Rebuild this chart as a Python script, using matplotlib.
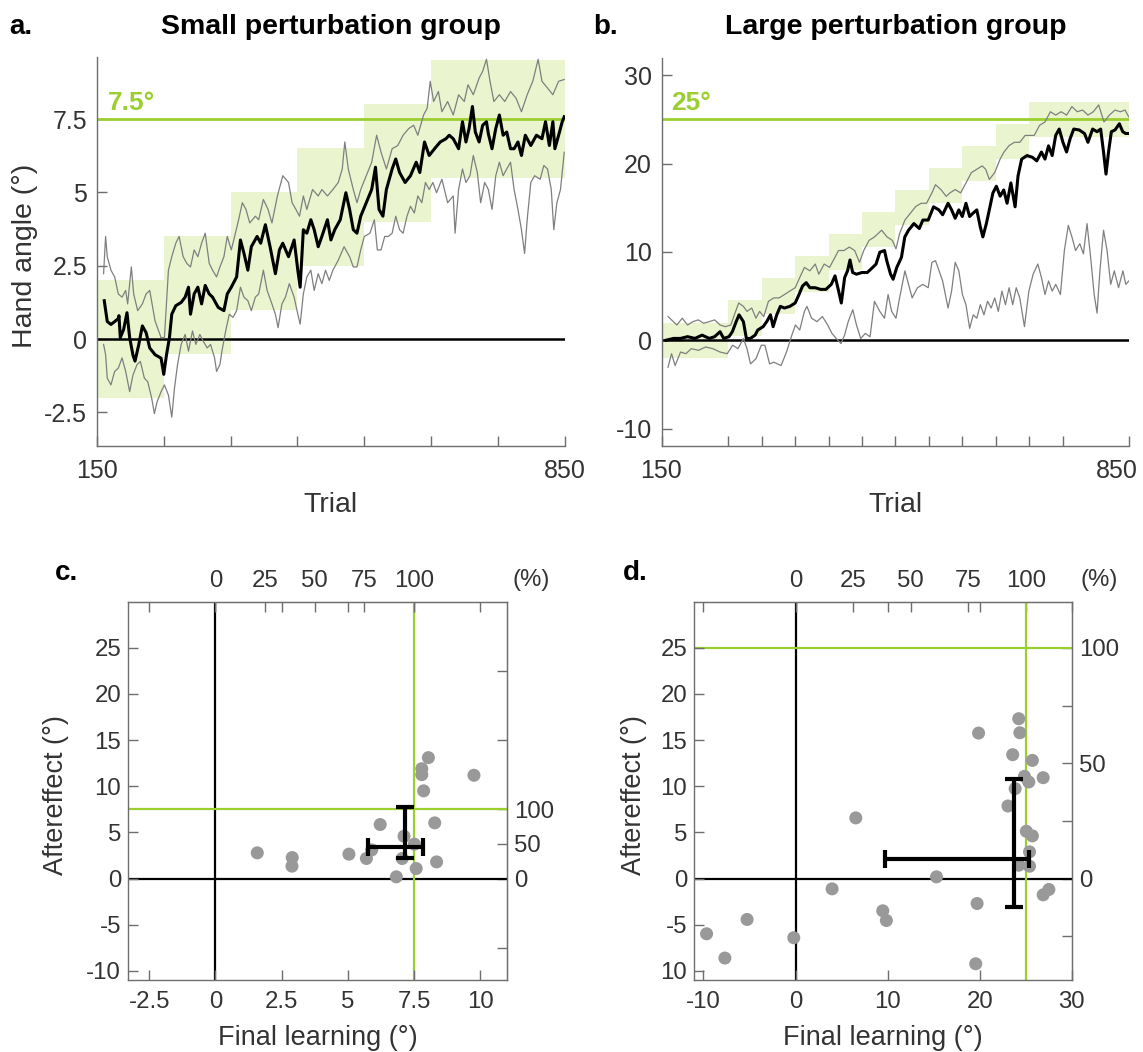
import matplotlib
matplotlib.use("Agg")
import matplotlib.pyplot as plt
import matplotlib.transforms as mtransforms
import numpy as np

plt.rcParams['font.family'] = ['Liberation Sans', 'DejaVu Sans']
plt.rcParams['axes.unicode_minus'] = False

# ---------------- data ----------------
# Panel a (small perturbation group)
a_block_edges = [150, 250, 350, 450, 550, 650, 850]
a_block_centers = [0, 1.5, 3, 4.5, 6, 7.5]
a_xticks = [150, 250, 350, 450, 550, 650, 750, 850]
a_target = 7.5

a_mean = [(161,1.31),(165.5,0.6),(171,0.5),(176.6,0.6),(182,0.7),(183,0.8),(185,0.05),(190,0.33),(195,0.9),(199,0.05),
          (204,-0.55),(207,-0.75),(212.5,-0.2),(218,0.45),(223.6,0.22),(229,-0.3),(237,-0.53),(246,-0.65),(250,-1.2),
          (254,-0.55),(258.5,0.05),(262,0.85),(268,1.14),(276,1.25),(282,1.43),(287,1.77),(290,0.85),(295.5,1.54),
          (301,1.77),(306.6,1.2),(312,1.83),(318,1.54),(323,1.43),(331.5,1.08),(340,0.97),(345,1.54),(351,1.77),
          (359,2.12),(364.7,3.38),(370,2.92),(375.8,2.35),(381,3.15),(389.6,3.5),(395,3.27),(402,3.9),(409,3.15),
          (417,2.23),(423,3.04),(428,3.27),(436.6,2.81),(445,3.38),(450.5,2.35),(454,1.77),(458.8,3.73),(464,3.61),
          (470,4.07),(475,3.73),(481,3.15),(486.5,3.5),(494.8,4.07),(500,3.38),(505.8,3.73),(514,4.07),(522.4,4.99),
          (528,4.42),(533.5,3.73),(539,3.61),(544.6,4.19),(552.9,4.65),(561,5.1),(566.7,5.86),(572,4.42),(577.8,4.19),
          (583,5.1),(591.6,5.8),(597,6.14),(602.7,5.68),(611,5.34),(619,5.57),(627.6,6.03),(633,5.68),(640,6.72),
          (647,6.26),(655,6.49),(663.5,6.72),(672,6.83),(677,6.95),(683,6.83),(691,6.49),(696.8,7.41),(702,6.72),
          (706.7,7.18),(711.7,7.93),(716,7.06),(721.7,6.72),(727,7.29),(732.7,7.41),(735.5,7.0),(741,6.49),(746.6,7.18),
          (752,7.64),(757.6,6.95),(763,7.06),(768.7,6.49),(774,6.49),(779.8,6.72),(785,6.26),(790.8,6.95),(799,6.6),
          (807.4,6.95),(815.7,6.83),(821,7.41),(826.8,6.6),(832,7.41),(835,6.49),(840.6,6.95),(846,7.41),(849,7.58)]

a_upper = [(160,2.23),(163,3.5),(165.5,2.81),(171,2.35),(176.6,2.12),(182,1.54),(187.6,1.43),(193,1.66),(196,1.2),
           (201.5,2.46),(205,1.54),(211,0.97),(218,1.2),(223.6,1.54),(229,1.66),(237,0.62),(246,0.05),(251,0.05),
           (257,2.35),(262,2.81),(268,3.27),(273,3.5),(279,2.81),(284.5,2.58),(290,2.46),(295.5,3.04),(301,2.81),
           (306.6,3.27),(312,3.61),(318,2.58),(323,2.35),(329,2.12),(334,2.46),(340,2.81),(345,3.5),(351,3.04),
           (356,3.5),(362,4.07),(367.5,4.65),(373,4.42),(378.6,3.96),(387,4.19),(392,4.07),(399,4.76),(406,4.42),
           (411.8,3.96),(420,4.88),(428,5.57),(436.6,5.34),(442,4.65),(447.7,4.42),(453,4.19),(458.8,4.88),(464,4.42),
           (472.6,5.1),(481,4.88),(486.5,5.1),(494.8,4.88),(503,5.1),(511,5.34),(517,5.8),(520.8,6.72),(526,5.8),
           (533.5,5.1),(539,4.65),(544.6,5.1),(552.9,5.57),(561,6.03),(568.4,6.95),(575,6.37),(583,5.8),(591.6,6.49),
           (600,6.6),(608,6.95),(616.5,7.18),(623.7,7.29),(630,6.95),(638.6,7.64),(644,7.87),(648.6,8.79),(653.6,8.1),
           (660.8,8.44),(666,7.75),(674.6,8.1),(683,7.64),(691,8.33),(699.5,8.1),(705,8.67),(713,8.33),(721.7,8.9),
           (727,9.13),(732.7,9.54),(738,8.79),(743.8,8.1),(752,8.33),(760,8.1),(768.7,8.44),(777,8.21),(785,7.75),
           (793.6,8.33),(802,8.79),(810,9.54),(815.7,8.79),(824,8.56),(832,8.33),(840.6,8.79),(849,8.85)]

a_lower = [(160,-0.18),(163,-0.53),(165.5,-1.33),(171,-1.56),(176.6,-1.1),(182,-0.99),(187.6,-0.64),(193,-1.1),
           (199,-1.79),(204,-1.22),(210,-0.87),(215,-0.76),(221,-1.33),(226,-1.45),(232,-2.02),(236,-2.54),(240,-2.14),
           (246,-1.79),(251,-1.56),(257,-1.91),(262,-2.66),(266,-1.68),(270.6,-0.87),(276,-0.18),(282,0.16),(287,-0.41),
           (293,0.28),(298,-0.18),(304,0.16),(309,-0.07),(315,-0.3),(320,-0.18),(326,-0.64),(329,-1.1),(334,-0.87),
           (337,-0.41),(342.6,0.28),(348,0.85),(353.6,0.74),(359,0.97),(364.7,1.77),(370,1.43),(375.8,1.31),(381,0.97),
           (387,1.43),(392,1.54),(399,2.35),(404.6,1.66),(411.8,1.2),(417,0.85),(421,0.39),(426.7,1.2),(432,1.43),
           (437.8,1.89),(445,1.43),(450.5,0.85),(454,0.51),(458.8,1.54),(464,2.12),(470,2.35),(475,1.66),(481,2.23),
           (486.5,1.89),(492,2.35),(497.5,2.0),(503,2.35),(511,2.69),(519.7,3.15),(528,2.81),(533.5,2.46),(539,2.46),
           (544.6,3.04),(550,3.5),(558.4,3.61),(565,4.07),(569.5,3.04),(575,3.04),(580.5,3.5),(586,3.5),(591.6,3.61),
           (597,4.19),(602.7,3.73),(608,3.61),(613.8,4.19),(619,4.53),(624.8,4.3),(630,4.88),(636,4.65),(641.4,5.34),
           (647,5.1),(652.5,5.34),(658,4.99),(666,5.45),(674.6,4.65),(683,4.88),(685.7,3.61),(691,5.1),(696.8,5.8),
           (702,5.34),(708,5.57),(713,6.26),(719,5.68),(724,4.65),(730,5.34),(735.5,5.1),(741,4.42),(746.6,5.57),
           (752,6.03),(757.6,5.57),(763,5.8),(768.7,6.03),(774,5.1),(779.8,4.42),(785,3.73),(789.7,2.92),(793.6,4.07),
           (799,5.34),(804.7,5.57),(813,5.45),(818.5,5.92),(824,5.8),(829.6,5.1),(833.4,3.73),(838,4.65),(843.4,5.1),
           (849,6.37)]

# Panel b (large perturbation group)
b_block_edges = [150, 250, 300, 350, 400, 450, 500, 550, 600, 650, 700, 850]
b_block_centers = [0, 2.5, 5, 7.5, 10, 12.5, 15, 17.5, 20, 22.5, 25]
b_xticks = [150, 250, 300, 350, 400, 450, 500, 550, 600, 650, 700, 750, 850]
b_target = 25

b_mean = [(157,0.0),(168,0.2),(178.5,0.2),(189,0.4),(200,0.2),(210.7,0.57),(221.5,0.2),(229.5,0.4),(237.6,0.96),
          (243,0.2),(251,0.4),(256,0.96),(261.7,2.1),(266,2.87),(272.5,2.1),(277,0.2),(283,0.2),(290,0.57),(294,1.15),
          (302,1.53),(307.4,2.1),(313,2.87),(317,1.53),(322.4,2.87),(327.8,3.83),(334,3.64),(342,3.83),(350,4.21),
          (355.7,5.17),(361,6.13),(366.5,6.51),(372,5.94),(380,5.94),(388,5.75),(396,5.75),(404,6.32),(409.6,7.28),
          (415,5.56),(419,4.21),(424,7.09),(428.3,7.85),(432,9.08),(436,7.66),(441.7,7.47),(449.8,7.66),(457.8,7.66),
          (466,8.24),(471,8.62),(476.6,9.96),(483.6,10.15),(487,9.0),(492.7,7.47),(496.5,6.9),(502,8.24),(509,9.39),
          (514,11.69),(519.6,12.45),(527.6,13.2),(535.7,12.64),(541,13.6),(549,13.6),(557,15.1),(565,14.75),(570.6,14.2),
          (578.7,15.5),(584,14.75),(589.4,13.8),(594.8,14.75),(600,14.0),(605.5,15.5),(611,14.0),(616,14.37),
          (621.7,14.75),(627,12.8),(630.8,11.69),(636,13.2),(640.4,14.75),(645.8,16.67),(651,17.43),(656.6,16.3),
          (662,17.0),(667,15.5),(672.7,17.8),(679,15.1),(683.4,18.6),(688.8,20.5),(696.9,20.9),(705,20.7),(711.4,20.3),
          (718.4,21.3),(723.7,20.5),(729,22.0),(734.5,20.9),(739.8,23.2),(745,23.9),(750.6,22.4),(756,21.3),
          (761.3,22.8),(766.7,23.9),(774.8,23.8),(782.8,23.4),(788,22.4),(795,23.9),(801.6,23.6),(807,23.9),
          (811.3,21.3),(815,18.8),(818.8,21.3),(823,23.6),(828.5,23.8),(835,24.5),(840,23.6),(844.4,23.4),(848.8,23.4)]

b_upper = [(159.7,2.68),(165,2.3),(173,1.72),(181,2.49),(189,1.72),(197,2.1),(205,2.3),(213,1.92),(221.4,2.1),
           (229.5,2.3),(237.6,1.72),(245.6,1.53),(253.7,1.72),(259,2.87),(265.5,4.21),(272.5,3.83),(277.9,3.26),
           (285,3.64),(291.3,2.49),(296.7,3.26),(303,2.68),(310,4.4),(318,4.79),(326,4.79),(334,5.17),(342,5.56),
           (350,5.94),(356.8,7.09),(363.8,8.24),(371.9,7.85),(380,8.62),(385.3,7.47),(393.4,8.62),(401.4,8.24),
           (406.8,9.0),(414.8,10.15),(422.9,10.15),(431,10.54),(439,10.15),(446.2,8.81),(452.6,10.15),(460.5,11.3),
           (468.6,11.69),(479.3,12.45),(487.4,11.69),(495.4,11.3),(500.8,10.34),(506.2,12.07),(514.2,13.6),(522.3,14.37),
           (530.3,15.13),(538.4,15.5),(546.5,15.5),(554.5,16.67),(559.9,17.6),(568,17.05),(576,16.28),(581.4,16.67),
           (589.4,17.05),(597.5,16.67),(605.5,17.8),(613.6,18.97),(621.7,19.35),(629.7,19.73),(635,19.35),(640.4,18.2),
           (648.5,18.97),(656.6,20.5),(662,21.26),(670,22.03),(678,22.4),(686,22.4),(694,23.18),(702,23.18),
           (707.6,23.18),(715.7,24.33),(723.7,24.7),(731.8,25.86),(739.8,25.48),(747.9,25.86),(756,25.48),(764,26.44),
           (772,25.86),(780,26.05),(788,25.48),(796,25.86),(804,26.63),(812,24.7),(820,25.48),(828.5,26.05),
           (836.5,25.86),(843.5,26.05),(848.8,25.3)]

b_lower = [(159.7,-3.07),(165,-1.53),(170.4,-2.87),(178.5,-1.34),(186.5,-1.53),(194.6,-0.96),(205.3,-1.15),(216,-0.77),
           (226.8,-0.96),(237.6,-1.34),(248.3,-1.53),(256.4,-0.57),(264.4,-0.96),(272.5,0.19),(277.9,-0.96),(283.2,-2.68),
           (291.3,-2.1),(299.3,-0.57),(304.7,-0.57),(311.7,-2.68),(318,-2.49),(328.9,-2.87),(337,-1.34),(345,0.57),
           (350.4,1.72),(356.8,1.15),(363.8,3.26),(367.6,3.83),(374.5,2.49),(382.6,2.1),(390.7,2.68),(398.7,1.72),
           (405,0.77),(411.5,0.19),(418.5,-0.38),(423.9,0.57),(429.3,2.1),(436.2,3.45),(441.7,1.72),(448,0.19),
           (455,0.77),(462,0.38),(468.6,4.4),(476.6,3.26),(483.6,2.49),(489,5.17),(494.3,3.26),(500.8,2.49),(506.2,4.79),
           (514.2,7.85),(519.6,6.32),(525,4.79),(533,5.94),(541,6.32),(549,5.94),(554.5,8.81),(559.9,9.0),(565.3,7.85),
           (570.6,6.7),(578.7,3.64),(584,5.56),(589.4,8.81),(594.8,7.85),(600.2,5.17),(605.5,4.02),(611,1.34),
           (616.3,2.87),(621.7,2.49),(627,4.02),(632.4,2.87),(637.8,4.4),(643.2,3.64),(648.5,4.79),(653.9,3.26),
           (659.3,5.56),(664.6,4.02),(670,5.94),(675.4,4.02),(680.7,5.94),(686,4.79),(693,1.53),(699.6,5.56),(706,7.47),
           (713,8.62),(718.4,7.09),(723.7,5.17),(729,6.7),(734.5,5.56),(739.8,6.32),(746.8,5.17),(752.7,10.15),
           (758.6,13.0),(764,11.69),(769.4,10.15),(775.8,10.92),(781.2,9.77),(786.6,13.2),(792,9.39),(797.3,5.17),
           (801.6,3.07),(805.9,7.85),(811.3,12.45),(816.6,10.15),(822,6.32),(827.4,7.85),(833.8,5.94),(840.3,7.85),
           (844.6,6.32),(849,6.7)]

# Panel c (small group): final learning vs aftereffect
c_target = 7.5
c_final = [1.58, 2.9, 2.89, 5.04, 5.7, 5.9, 6.22, 6.83, 7.05, 7.12, 7.51, 7.58, 7.79, 7.79, 7.86, 8.04, 8.28, 8.35, 9.76]
c_after = [2.78, 2.27, 1.34, 2.64, 2.17, 3.1, 5.85, 0.18, 2.17, 4.58, 3.72, 1.08, 11.9, 11.26, 9.5, 13.1, 6.03, 1.8, 11.19]
c_center = (7.14, 3.43)
c_xrange = (5.77, 7.84)
c_yrange = (2.17, 7.76)

# Panel d (large group)
d_target = 25
d_final = [-9.66, -7.67, -5.26, -0.19, 3.97, 6.54, 9.47, 9.86, 15.3, 19.71, 19.56, 19.87, 23.06, 23.57, 23.84, 24.23,
           24.35, 24.23, 24.85, 25.32, 25.05, 25.71, 25.4, 25.4, 25.71, 26.88, 26.88, 27.5]
d_after = [-5.99, -8.62, -4.44, -6.42, -1.12, 6.57, -3.5, -4.55, 0.18, -2.71, -9.24, 15.76, 7.86, 13.42, 9.74, 17.32,
           15.8, 1.44, 11.07, 10.46, 5.12, 4.62, 2.89, 1.33, 12.8, 10.93, -1.77, -1.19]
d_center = (23.76, 2.16)
d_xrange = (9.66, 25.32)
d_yrange = (-3.14, 10.75)

# ---------------- style ----------------
GREEN = '#9BCF30'
SHADE = '#EAF5CF'
GRAY = '#7F7F7F'
SPINE = '#6E6E6E'
TXT = '#333333'
W, H = 1143, 1052

fig = plt.figure(figsize=(W / 100, H / 100), dpi=100)


def rect(l, t, r, b):
    return [l / W, 1 - b / H, (r - l) / W, (b - t) / H]


def style_axes(ax, fs):
    for s in ax.spines.values():
        s.set_color(SPINE)
        s.set_linewidth(1.0)
    ax.tick_params(direction='in', length=7, width=1.0, colors=SPINE, labelcolor=TXT, labelsize=fs)


def trial_panel(ax, edges, centers, xticks, target, mean, upper, lower, ylim, yticks, ylabels, tlabel_xy):
    for i, c in enumerate(centers):
        ax.fill_between([edges[i], edges[i + 1]], [c - 2, c - 2], [c + 2, c + 2], color=SHADE, lw=0, zorder=1)
    ax.axhline(target, color=GREEN, lw=2.0, zorder=2)
    ax.axhline(0, color='black', lw=1.8, zorder=2)
    for curve in (upper, lower):
        x, y = zip(*curve)
        ax.plot(x, y, color=GRAY, lw=0.9, zorder=3)
    x, y = zip(*mean)
    ax.plot(x, y, color='black', lw=2.2, zorder=4)
    ax.set_xlim(150, 850)
    ax.set_ylim(*ylim)
    ax.set_xticks(xticks)
    ax.set_xticklabels(['150'] + [''] * (len(xticks) - 2) + ['850'])
    ax.set_yticks(yticks)
    ax.set_yticklabels(ylabels)
    ax.spines['top'].set_visible(False)
    ax.spines['right'].set_visible(False)
    style_axes(ax, 18)
    ax.tick_params(axis='x', pad=9)
    ax.tick_params(axis='y', pad=7)
    ax.set_xlabel('Trial', fontsize=20.5, color=TXT)
    ax.xaxis.set_label_coords(0.5, -0.118)
    ax.text(tlabel_xy[0], tlabel_xy[1], f'{target:g}°', color=GREEN, fontsize=19, fontweight='bold',
            ha='left', va='baseline', zorder=5)


axA = fig.add_axes(rect(96.9, 57.5, 564.9, 446.2))
trial_panel(axA, a_block_edges, a_block_centers, a_xticks, a_target, a_mean, a_upper, a_lower,
            (-3.65, 9.6), [-2.5, 0, 2.5, 5, 7.5], ['-2.5', '0', '2.5', '5', '7.5'], (166, 7.81))
axA.set_ylabel('Hand angle (°)', fontsize=20.5, color=TXT)
axA.yaxis.set_label_coords(-0.126, 0.49)

axB = fig.add_axes(rect(661.5, 57.5, 1129.4, 446.2))
trial_panel(axB, b_block_edges, b_block_centers, b_xticks, b_target, b_mean, b_upper, b_lower,
            (-12, 32), [-10, 0, 10, 20, 30], ['-10', '0', '10', '20', '30'], (165, 26.05))
# last tick label of panel b sits slightly left so it stays inside the figure
last_lbl = axB.get_xticklabels()[-1]
last_lbl.set_transform(last_lbl.get_transform() + mtransforms.ScaledTranslation(-9 / 72, 0, fig.dpi_scale_trans))


def scatter_panel(ax, target, fx, ay, center, xr, yr, xlim, xticks, xlabels, ylabels, rticks, rlabels, ylab_x):
    ax.axvline(0, color='black', lw=1.6, zorder=1)
    ax.axhline(0, color='black', lw=1.6, zorder=1)
    ax.axvline(target, color=GREEN, lw=1.6, zorder=1)
    ax.axhline(target, color=GREEN, lw=1.6, zorder=1)
    ax.scatter(fx, ay, s=88, color='#999999', edgecolors='none', zorder=3)
    cx, cy = center
    ax.errorbar([cx], [cy], xerr=[[cx - xr[0]], [xr[1] - cx]], yerr=[[cy - yr[0]], [yr[1] - cy]],
                fmt='none', ecolor='black', elinewidth=3.0, capsize=6.5, capthick=3.0, zorder=4)
    ax.set_xlim(*xlim)
    ax.set_ylim(-11, 30)
    ax.set_xticks(xticks)
    ax.set_xticklabels(xlabels)
    ax.set_yticks([-10, -5, 0, 5, 10, 15, 20, 25])
    ax.set_yticklabels(ylabels)
    style_axes(ax, 17.3)
    ax.tick_params(axis='x', top=True, pad=8)
    ax.tick_params(axis='y', right=False, pad=5)
    ax.set_xlabel('Final learning (°)', fontsize=19.5, color=TXT)
    ax.xaxis.set_label_coords(0.5, -0.12)
    ax.set_ylabel('Aftereffect (°)', fontsize=19.5, color=TXT)
    ax.yaxis.set_label_coords(ylab_x, 0.49)

    top = ax.secondary_xaxis('top', functions=(lambda v: v / target * 100, lambda p: p * target / 100))
    top.set_xticks([0, 25, 50, 75, 100])
    top.set_xticklabels(['0', '25', '50', '75', '100'])
    top.tick_params(direction='in', length=7, width=1.0, colors=SPINE, labelcolor=TXT, labelsize=17.3, pad=7)
    top.spines['top'].set_color(SPINE)

    right = ax.secondary_yaxis('right', functions=(lambda v: v / target * 100, lambda p: p * target / 100))
    right.set_yticks(rticks)
    right.set_yticklabels(rlabels)
    right.tick_params(direction='in', length=7, width=1.0, colors=SPINE, labelcolor=TXT, labelsize=17.3, pad=5)
    right.spines['right'].set_color(SPINE)


axC = fig.add_axes(rect(128, 601.7, 506.8, 980))
scatter_panel(axC, c_target, c_final, c_after, c_center, c_xrange, c_yrange, (-3.3, 11),
              [-2.5, 0, 2.5, 5, 7.5, 10], ['-2.5', '0', '2.5', '5', '7.5', '10'],
              ['-10', '-5', '0', '5', '10', '15', '20', '25'],
              [-100, 0, 50, 100, 200, 300], ['', '0', '50', '100', '', ''], -0.156)

axD = fig.add_axes(rect(694.2, 601.7, 1071.9, 980))
scatter_panel(axD, d_target, d_final, d_after, d_center, d_xrange, d_yrange, (-11, 30),
              [-10, 0, 10, 20, 30], ['-10', '0', '10', '20', '30'],
              ['10', '-5', '0', '5', '10', '15', '20', '25'],
              [-25, 0, 25, 50, 75, 100], ['', '0', '', '50', '', '100'], -0.125)

# panel letters, titles, (%) markers
fig.text(9 / W, 1 - 27 / H, 'a.', fontsize=20, fontweight='bold', va='center', ha='left')
fig.text(593 / W, 1 - 27 / H, 'b.', fontsize=20, fontweight='bold', va='center', ha='left')
fig.text(55 / W, 1 - 573 / H, 'c.', fontsize=20, fontweight='bold', va='center', ha='left')
fig.text(623 / W, 1 - 573 / H, 'd.', fontsize=20, fontweight='bold', va='center', ha='left')
fig.text(331 / W, 1 - 27 / H, 'Small perturbation group', fontsize=20.5, fontweight='bold', va='center', ha='center')
fig.text(895.5 / W, 1 - 27 / H, 'Large perturbation group', fontsize=20.5, fontweight='bold', va='center', ha='center')
fig.text(531 / W, 1 - 580 / H, '(%)', fontsize=17.3, color=TXT, va='center', ha='center')
fig.text(1099 / W, 1 - 580 / H, '(%)', fontsize=17.3, color=TXT, va='center', ha='center')

fig.savefig('out.png', dpi=100)
